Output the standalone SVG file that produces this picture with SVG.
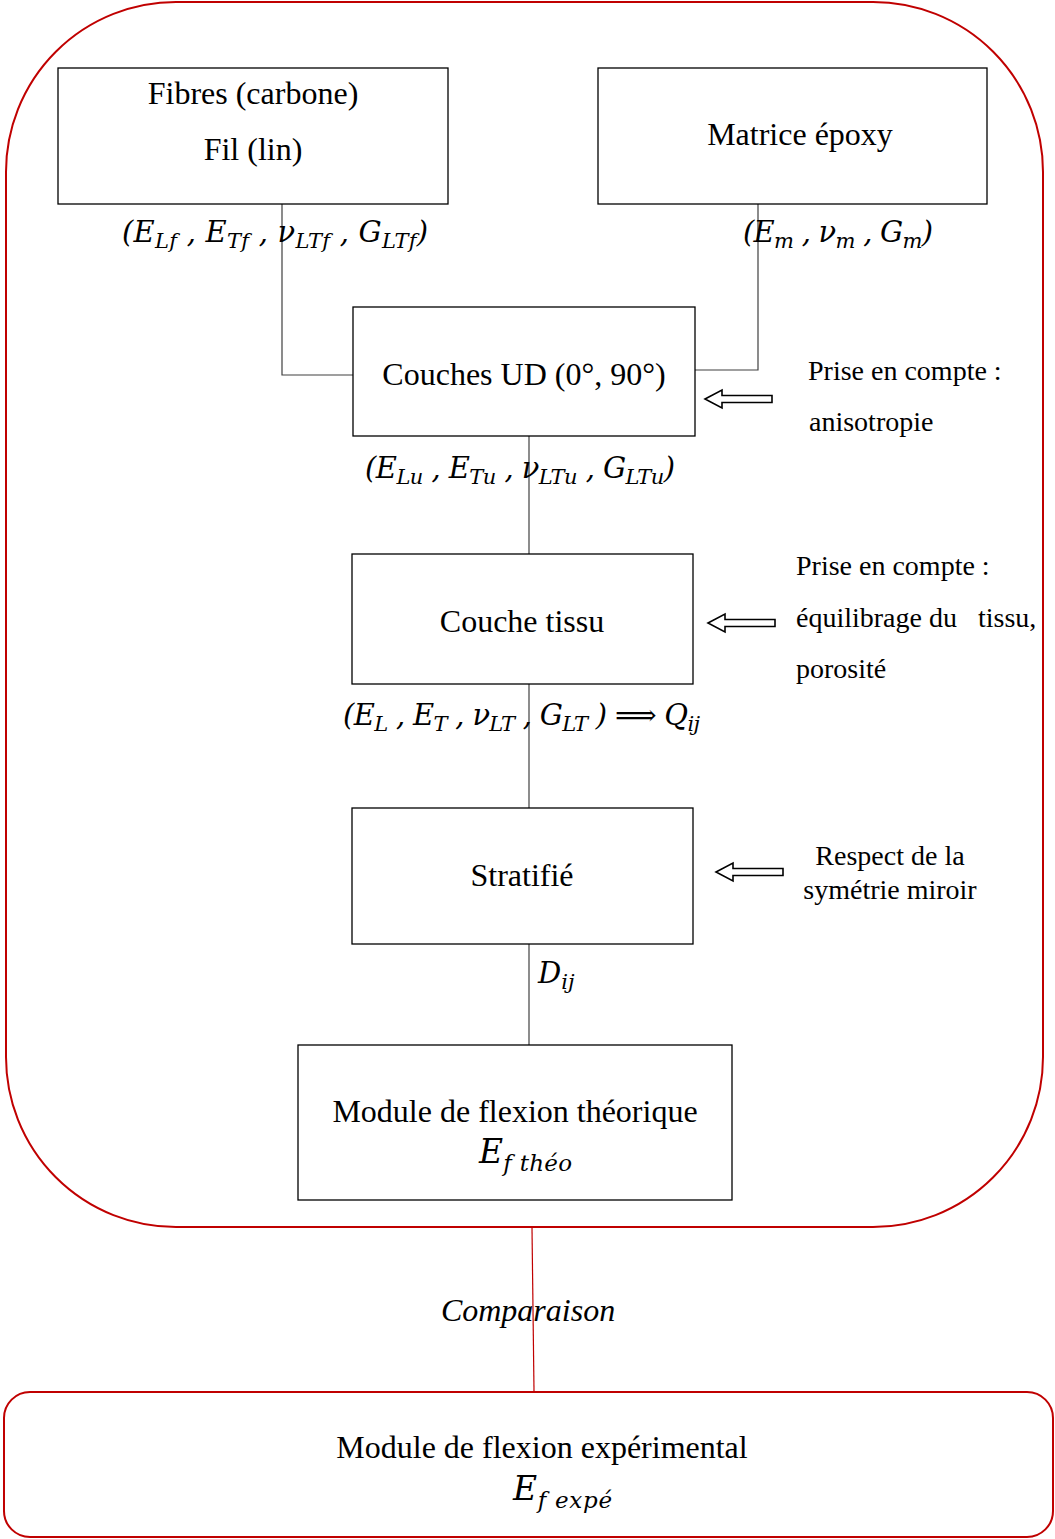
<svg xmlns="http://www.w3.org/2000/svg" width="1055" height="1539" viewBox="0 0 1055 1539">
<style>
.box{fill:#fff;stroke:#000;stroke-width:1.3}
.red{fill:none;stroke:#c00000;stroke-width:2}
.con{fill:none;stroke:#404040;stroke-width:1.2}
.tc{font-family:"Liberation Serif",serif;font-size:32px;fill:#000;text-anchor:middle}
.s{font-family:"Liberation Serif",serif;font-size:28px;fill:#000}
.m{font-family:"DejaVu Serif",serif;font-style:italic;font-size:29px;fill:#000}
.sub{font-size:21px}
.arr{fill:#fff;stroke:#000;stroke-width:1.6}
</style>
<defs>
<path id="harrow" d="M0,0 L17,-9 L17,-3.5 L67,-3.5 L67,3.5 L17,3.5 L17,9 Z"/>
</defs>
<rect class="red" x="6" y="2" width="1037" height="1225" rx="170" ry="170"/>
<rect class="red" x="4" y="1392" width="1049" height="145" rx="26" ry="26"/>
<g id="connectors">
<polyline class="con" points="282,204 282,375 353,375"/>
<polyline class="con" points="758,204 758,370 695,370"/>
<line class="con" x1="529" y1="436" x2="529" y2="554"/>
<line class="con" x1="529" y1="684" x2="529" y2="808"/>
<line class="con" x1="529" y1="944" x2="529" y2="1045"/>
<line x1="532" y1="1228" x2="534" y2="1391" stroke="#c00000" stroke-width="1.2"/>
</g>
<g id="fibres">
<rect class="box" x="58" y="68" width="390" height="136"/>
<text class="tc" x="253" y="104">Fibres (carbone)</text>
<text class="tc" x="253" y="160">Fil (lin)</text>
</g>
<g id="matrice">
<rect class="box" x="598" y="68" width="389" height="136"/>
<text class="tc" x="800" y="145">Matrice époxy</text>
</g>
<g id="label-fibres">
<text class="m" x="122" y="242" textLength="306" lengthAdjust="spacing">(E<tspan class="sub" dy="6">Lf</tspan><tspan dy="-6"> , E</tspan><tspan class="sub" dy="6">Tf</tspan><tspan dy="-6"> , ν</tspan><tspan class="sub" dy="6">LTf</tspan><tspan dy="-6"> , G</tspan><tspan class="sub" dy="6">LTf</tspan><tspan dy="-6">)</tspan></text>
</g>
<g id="label-matrice">
<text class="m" x="743" y="242" textLength="190" lengthAdjust="spacing">(E<tspan class="sub" dy="6">m</tspan><tspan dy="-6"> , ν</tspan><tspan class="sub" dy="6">m</tspan><tspan dy="-6"> , G</tspan><tspan class="sub" dy="6">m</tspan><tspan dy="-6">)</tspan></text>
</g>
<g id="couches-ud">
<rect class="box" x="353" y="307" width="342" height="129"/>
<text class="tc" x="524" y="385">Couches UD (0°, 90°)</text>
</g>
<g id="note-anisotropie">
<use href="#harrow" class="arr" x="705" y="399"/>
<text class="s" x="808" y="380">Prise en compte :</text>
<text class="s" x="809" y="431">anisotropie</text>
</g>
<g id="label-ud">
<text class="m" x="365" y="478" textLength="310" lengthAdjust="spacing">(E<tspan class="sub" dy="6">Lu</tspan><tspan dy="-6"> , E</tspan><tspan class="sub" dy="6">Tu</tspan><tspan dy="-6"> , ν</tspan><tspan class="sub" dy="6">LTu</tspan><tspan dy="-6"> , G</tspan><tspan class="sub" dy="6">LTu</tspan><tspan dy="-6">)</tspan></text>
</g>
<g id="couche-tissu">
<rect class="box" x="352" y="554" width="341" height="130"/>
<text class="tc" x="522" y="632">Couche tissu</text>
</g>
<g id="note-tissu">
<use href="#harrow" class="arr" x="708" y="623"/>
<text class="s" x="796" y="575">Prise en compte :</text>
<text class="s" x="796" y="627" xml:space="preserve">équilibrage du   tissu,</text>
<text class="s" x="796" y="678">porosité</text>
</g>
<g id="label-tissu">
<text class="m" x="343" y="725" textLength="357" lengthAdjust="spacing">(E<tspan class="sub" dy="6">L</tspan><tspan dy="-6"> , E</tspan><tspan class="sub" dy="6">T</tspan><tspan dy="-6"> , ν</tspan><tspan class="sub" dy="6">LT</tspan><tspan dy="-6"> , G</tspan><tspan class="sub" dy="6">LT</tspan><tspan dy="-6"> ) ⟹ Q</tspan><tspan class="sub" dy="6">ij</tspan></text>
</g>
<g id="stratifie">
<rect class="box" x="352" y="808" width="341" height="136"/>
<text class="tc" x="522" y="886">Stratifié</text>
</g>
<g id="note-symetrie">
<use href="#harrow" class="arr" x="716" y="872"/>
<text class="s" x="890" y="865" text-anchor="middle">Respect de la</text>
<text class="s" x="890" y="899" text-anchor="middle">symétrie miroir</text>
</g>
<g id="label-dij">
<text class="m" x="538" y="983">D<tspan class="sub" dy="6">ij</tspan></text>
</g>
<g id="module-theorique">
<rect class="box" x="298" y="1045" width="434" height="155"/>
<text class="tc" x="515" y="1122">Module de flexion théorique</text>
<text class="m" x="479" y="1163" style="font-size:33px" textLength="93" lengthAdjust="spacing">E<tspan class="sub" dy="8" style="font-size:23px">f théo</tspan></text>
</g>
<g id="comparaison">
<text class="tc" x="528" y="1321" style="font-style:italic">Comparaison</text>
</g>
<g id="module-experimental">
<text class="tc" x="542" y="1458">Module de flexion expérimental</text>
<text class="m" x="513" y="1500" style="font-size:33px" textLength="99" lengthAdjust="spacing">E<tspan class="sub" dy="8" style="font-size:23px">f expé</tspan></text>
</g>
</svg>
